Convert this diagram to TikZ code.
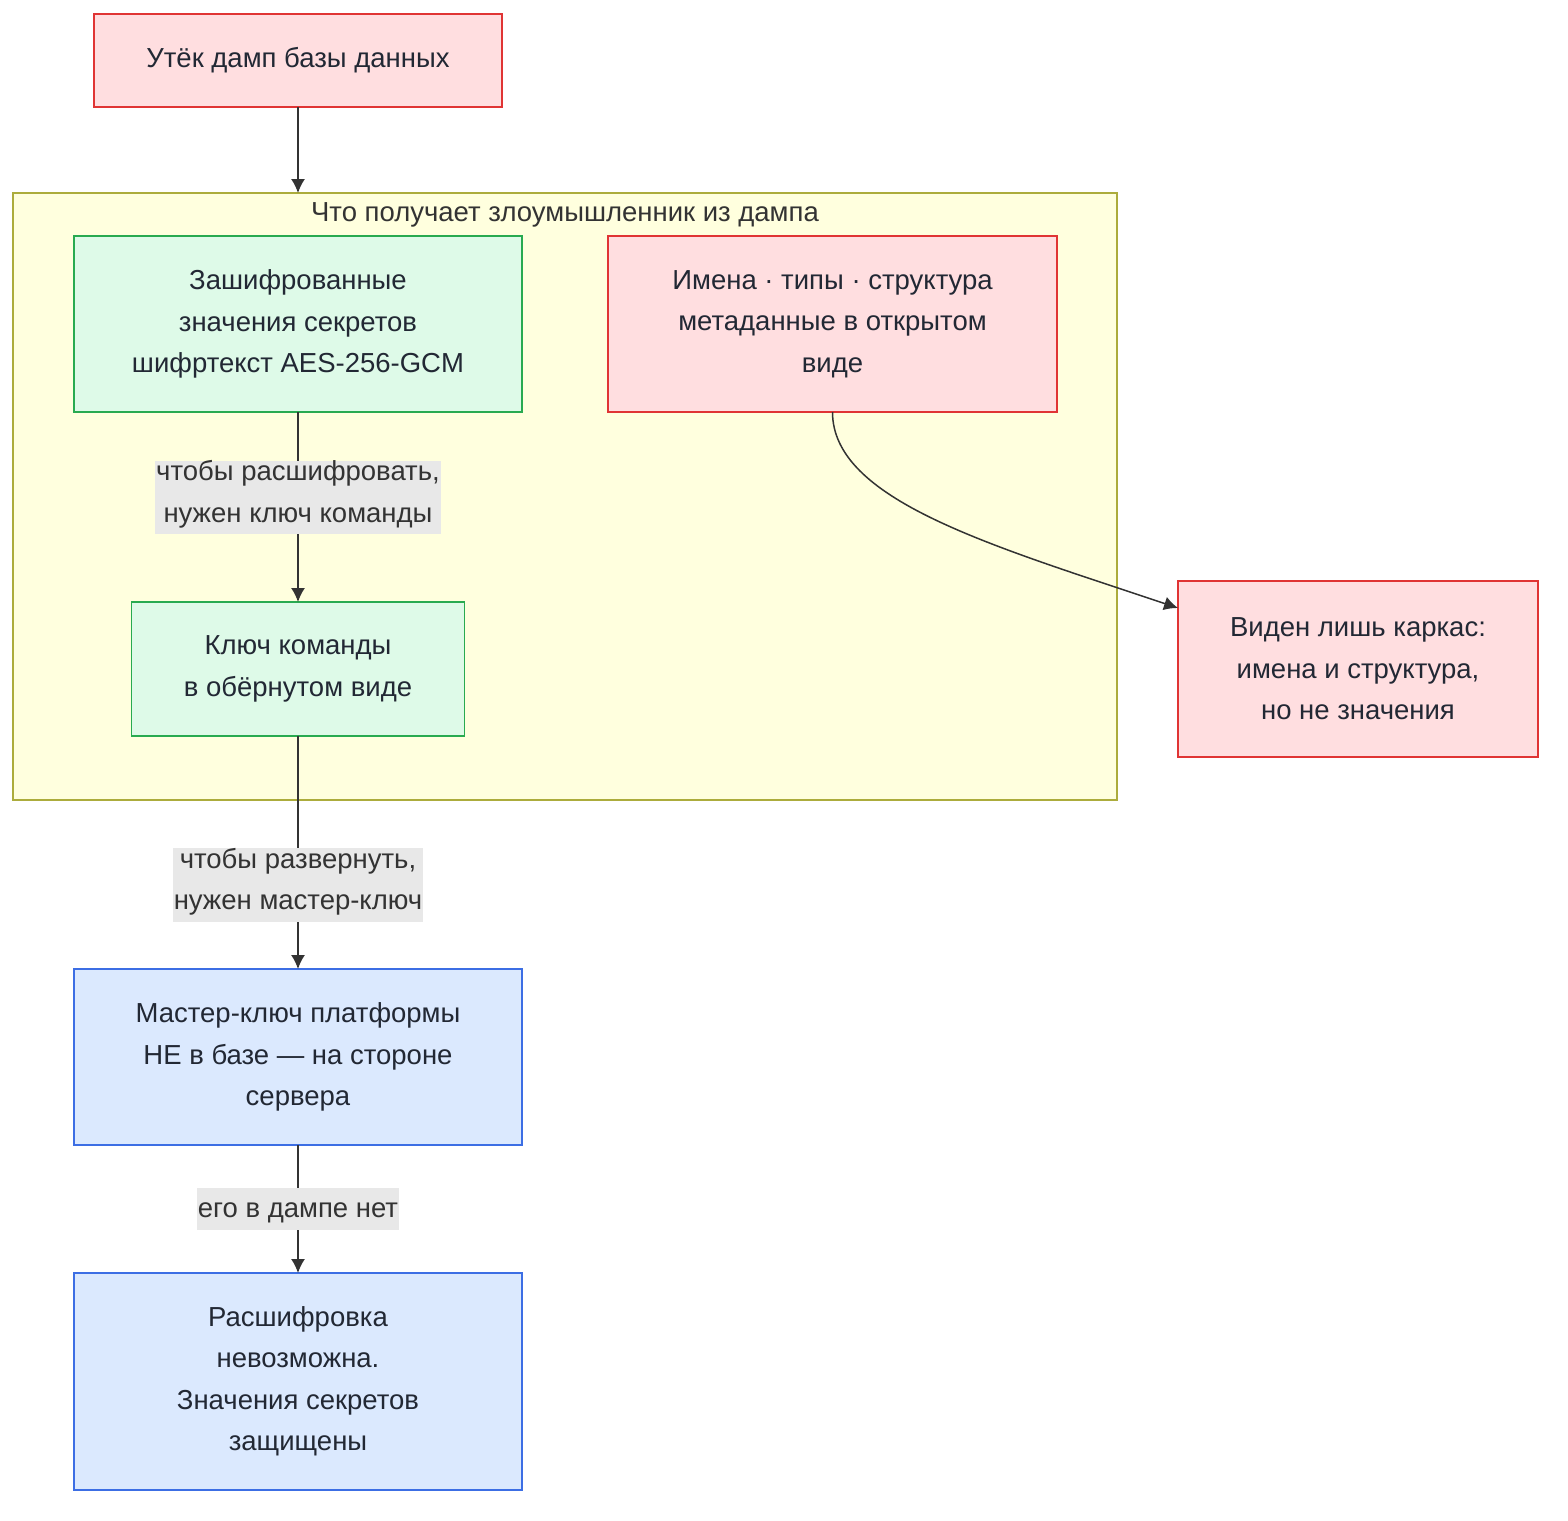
\documentclass[tikz,border=0pt]{standalone}
\usepackage{fontspec}
\setmainfont{Liberation Sans}
\usepackage{tikz}
\usetikzlibrary{
  arrows.meta,
  positioning,
  calc
}
\definecolor{LeakRed}{RGB}{224,52,52}
\definecolor{SoftRed}{RGB}{255,222,224}
\definecolor{CipherGreen}{RGB}{40,170,80}
\definecolor{SoftGreen}{RGB}{222,250,232}
\definecolor{ServerBlue}{RGB}{60,110,228}
\definecolor{SoftBlue}{RGB}{219,233,254}
\definecolor{DumpOlive}{RGB}{172,172,60}
\definecolor{DumpYellow}{RGB}{255,255,222}
\definecolor{LabelGray}{RGB}{232,232,232}
\definecolor{InkGray}{RGB}{51,51,51}
\definecolor{TextNavy}{RGB}{34,40,52}
\tikzset{
  basebox/.style={rectangle,line width=1.5pt,align=center,text=TextNavy,
    font=\fontsize{27.5}{41.5}\selectfont,inner sep=0pt,outer sep=0pt},
  exposed/.style={basebox,draw=LeakRed,fill=SoftRed},
  cipher/.style={basebox,draw=CipherGreen,fill=SoftGreen},
  server/.style={basebox,draw=ServerBlue,fill=SoftBlue},
  dumparea/.style={rectangle,draw=DumpOlive,fill=DumpYellow,line width=1.5pt,outer sep=0pt},
  edgelabel/.style={fill=LabelGray,text=InkGray,align=center,inner xsep=1pt,inner ysep=0pt,
    font=\fontsize{27.5}{41.5}\selectfont,
    execute at begin node={\rule{0pt}{30pt}},
    execute at end node={\rule[-12pt]{0pt}{12pt}}},
  flow/.style={-{Latex[length=14pt,width=14pt]},line width=1.5pt,draw=InkGray}
}

\begin{document}
\begin{tikzpicture}[x=1pt,y=-1pt]
\useasboundingbox (0,0) rectangle (1568,1520);

% dump contents
\node[dumparea,minimum width=1104pt,minimum height=607pt] (dump) at (565,496.5) {};
\node[text=InkGray,font=\fontsize{27.5}{41.5}\selectfont,below=6pt of dump.north] (dumptitle)
  {Что получает злоумышленник из дампа};

\node[exposed,minimum width=408pt,minimum height=93pt] (leak) at (298,60.5) {Утёк дамп базы данных};

\node[cipher,minimum width=448pt,minimum height=176pt] (enc) at (298,324)
  {Зашифрованные\\значения секретов\\шифртекст AES-256-GCM};
\node[exposed,minimum width=449pt,minimum height=176pt,right=86pt of enc] (meta)
  {Имена · типы · структура\\метаданные в открытом\\виде};
\node[cipher,minimum width=333pt,minimum height=134pt,below=190pt of enc] (teamkey)
  {Ключ команды\\в обёрнутом виде};

\node[exposed,minimum width=360pt,minimum height=176pt] (skeleton) at (1358,669)
  {Виден лишь каркас:\\имена и структура,\\но не значения};

\node[server,minimum width=448pt,minimum height=176pt,below=233pt of teamkey] (master)
  {Мастер-ключ платформы\\НЕ в базе — на стороне\\сервера};
\node[server,minimum width=448pt,minimum height=217pt,below=128pt of master] (result)
  {Расшифровка\\невозможна.\\Значения секретов\\защищены};

\draw[flow] (leak) -- (leak |- dump.north);
\draw[flow] (enc) -- node[edgelabel,pos=0.45] {чтобы расшифровать,\\нужен ключ команды} (teamkey);
\draw[flow] (teamkey) -- node[edgelabel,pos=0.64] {чтобы развернуть,\\нужен мастер-ключ} (master);
\draw[flow] (master) -- node[edgelabel,pos=0.496] {его в дампе нет} (result);
\draw[flow] (meta.south) .. controls ++(0,88) and ($(skeleton.west)+(-188,-124)$) .. ($(skeleton.west)+(0,-61)$);
\end{tikzpicture}
\end{document}
